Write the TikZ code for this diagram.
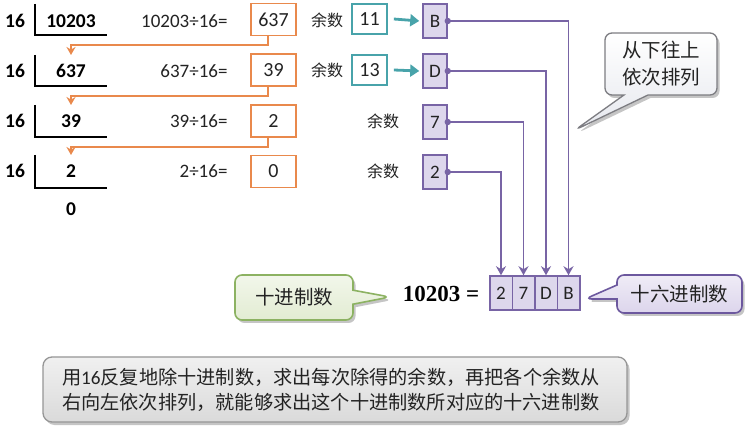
\documentclass[tikz,border=0pt]{standalone}
\usepackage{fontspec}
\setmainfont{Carlito}
\newfontfamily\cjk{Noto Sans CJK SC}
\newfontfamily\serifb{Liberation Serif}
\usetikzlibrary{arrows.meta,shapes.callouts,shadows}
\definecolor{orng}{RGB}{233,137,76}
\definecolor{tealc}{RGB}{72,163,170}
\definecolor{purp}{RGB}{120,100,165}
\definecolor{lav}{RGB}{221,215,236}
\definecolor{grnfill}{RGB}{226,236,210}
\definecolor{grnline}{RGB}{140,178,98}
\definecolor{pcfill}{RGB}{220,213,236}
\definecolor{pcline}{RGB}{108,88,158}
\definecolor{txt}{RGB}{35,35,35}
\definecolor{bubline}{RGB}{125,125,130}
\definecolor{bubfill}{RGB}{230,232,238}
\definecolor{notefill}{RGB}{218,218,218}
\definecolor{noteline}{RGB}{150,150,150}
\begin{document}
\begin{tikzpicture}[x=1pt,y=-1pt,
  every node/.style={text=txt},
  divnum/.style={font=\fontsize{19.5}{19.5}\selectfont\bfseries, text=black},
  eqn/.style={font=\fontsize{19}{19}\selectfont, anchor=east},
  brk/.style={line width=1.4pt, black},
  obox/.style={draw=orng, line width=1.7pt, fill=white, minimum width=45pt, minimum height=32pt, inner sep=0pt, font=\fontsize{20}{20}\selectfont},
  oarr/.style={draw=orng, line width=1.9pt, -{Stealth[length=8pt,width=9pt]}},
  ylbl/.style={font=\cjk\fontsize{16}{16}\selectfont},
  tbox/.style={draw=tealc, line width=1.7pt, fill=white, minimum width=35pt, minimum height=30pt, inner sep=0pt, font=\fontsize{20}{20}\selectfont},
  tarr/.style={draw=tealc, line width=2.8pt, -{Triangle[length=9pt,width=12pt]}},
  pbox/.style={draw=purp, line width=1.5pt, fill=lav, minimum width=24pt, minimum height=34pt, inner sep=0pt, font=\fontsize{19}{19}\selectfont},
  rbox/.style={draw=purp, line width=1.5pt, fill=lav, minimum width=22.5pt, minimum height=34pt, inner sep=0pt, font=\fontsize{19}{19}\selectfont},
  pline/.style={draw=purp, line width=1.9pt, -{Stealth[length=9pt,width=10pt]}},
  pdot/.style={fill=purp},
  shad/.style={drop shadow={shadow xshift=2.5pt, shadow yshift=-3pt, opacity=0.45}},
  callbase/.style={rectangle callout, rounded corners=7pt, line width=1.6pt, inner sep=0pt, font=\cjk\fontsize{19.5}{19.5}\selectfont, shad},
]
\useasboundingbox[fill=white] (0,0) rectangle (750,438);

% division column
\foreach \y/\t/\b in {21/4/35, 71/55/86, 121/105/137, 171/155/188}{
  \node[divnum] at (15,\y) {16};
  \draw[brk] (35,\t) -- (35,\b) -- (107,\b);
}
\node[divnum] (d1) at (71,21) {10203};
\node[divnum] (d2) at (71,71) {637};
\node[divnum] (d3) at (71,121) {39};
\node[divnum] (d4) at (71,171) {2};
\node[divnum] (d5) at (71,209) {0};
\coordinate (t2) at (71,55);
\coordinate (t3) at (71,105);
\coordinate (t4) at (71,155);

% equations
\node[eqn] (e1) at (231,21) {10203÷16=};
\node[eqn] (e2) at (231,71) {637÷16=};
\node[eqn] (e3) at (231,121) {39÷16=};
\node[eqn] (e4) at (231,171) {2÷16=};

% quotient boxes
\node[obox] (o1) at (273.5,19.5) {637};
\node[obox] (o2) at (273.5,70) {39};
\node[obox] (o3) at (273.5,121) {2};
\node[obox] (o4) at (273.5,171.5) {0};

\draw[oarr] ([xshift=-5.5pt]o1.south) -- ++(0,9) -| (t2);
\draw[oarr] ([xshift=-5.5pt]o2.south) -- ++(0,9) -| (t3);
\draw[oarr] ([xshift=-5.5pt]o3.south) -- ++(0,9) -| (t4);

% remainders
\node[ylbl] (y1) at (327,20) {余数};
\node[ylbl] (y2) at (327,70) {余数};
\node[ylbl] (y3) at (383,121) {余数};
\node[ylbl] (y4) at (383,171) {余数};

\node[tbox] (m1) at (369.5,19) {11};
\node[tbox] (m2) at (369.5,70) {13};

\node[pbox] (p1) at (435,21) {B};
\node[pbox] (p2) at (435,71) {D};
\node[pbox] (p3) at (435,122) {7};
\node[pbox] (p4) at (435,172) {2};

\draw[tarr] ([xshift=6pt]m1.east) -- ([xshift=-3pt]p1.west);
\draw[tarr] ([xshift=6pt]m2.east) -- ([xshift=-3pt]p2.west);

% result
\node[font=\serifb\fontsize{23}{23}\selectfont\bfseries, text=black] (eq) at (441,294) {10203 =};
\node[rbox] (r1) at (501,293) {2};
\node[rbox] (r2) at (523.5,293) {7};
\node[rbox] (r3) at (546,293) {D};
\node[rbox] (r4) at (568.5,293) {B};

\draw[pline] (p1.east) -| (r4.north);
\draw[pline] (p2.east) -| (r3.north);
\draw[pline] (p3.east) -| (r2.north);
\draw[pline] (p4.east) -| (r1.north);
\foreach \p in {p1,p2,p3,p4}{\fill[pdot] (\p.east) circle (3.2pt);}

% callouts
\node[callbase, draw=grnline, top color=grnfill!45!white, bottom color=grnfill,
  minimum width=118pt, minimum height=45pt,
  callout absolute pointer={(390,297)}, callout pointer width=14pt] (dec) at (294,297.5) {十进制数};
\node[callbase, draw=pcline, top color=pcfill!45!white, bottom color=pcfill,
  minimum width=125pt, minimum height=38pt,
  callout absolute pointer={(585,299)}, callout pointer width=14pt] (hex) at (679.5,294) {十六进制数};
\node[callbase, draw=bubline, line width=1.3pt, top color=white, bottom color=bubfill,
  minimum width=112pt, minimum height=62pt, align=center,
  font=\cjk\fontsize{19.5}{27}\selectfont,
  callout absolute pointer={(575,130)}, callout pointer width=24pt] (bub) at (661,64) {从下往上\\依次排列};

% note
\node[draw=noteline, line width=1.3pt, rounded corners=9pt, top color=notefill!40!white, bottom color=notefill,
  shad, minimum width=584pt, minimum height=65pt, inner xsep=19pt, inner ysep=0pt,
  text width=546pt, align=left, font=\cjk\fontsize{19.2}{25}\selectfont] (note) at (335,389.5)
  {用{\rmfamily 16}反复地除十进制数，求出每次除得的余数，再把各个余数从\\右向左依次排列，就能够求出这个十进制数所对应的十六进制数};
\end{tikzpicture}
\end{document}
